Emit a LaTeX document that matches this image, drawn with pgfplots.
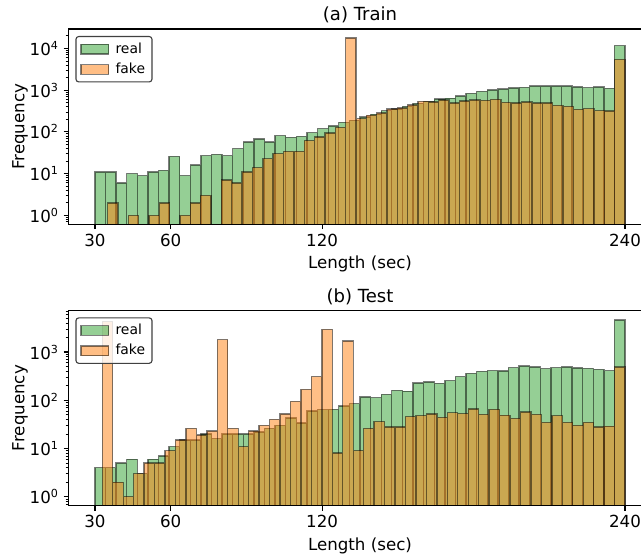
\documentclass[border=0pt]{standalone}
\usepackage{fontspec}
\setmainfont{DejaVu Sans}
\usepackage{pgfplots}
\usepackage{pgfplotstable}
\pgfplotsset{compat=1.18}
\definecolor{tabgreen}{RGB}{44,160,44}
\definecolor{taborange}{RGB}{255,127,14}

\pgfplotstableread{
x y
32.1 11
36.3 11
40.5 6
44.7 10
48.9 9
53.1 11
57.3 12
61.5 26
65.7 9
69.9 16
74.1 27
78.3 29
82.5 27
86.7 40
90.9 57
95.1 68
99.3 57
103.5 81
107.7 74
111.9 78
116.1 96
120.3 119
124.5 139
128.7 169
132.9 190
137.1 225
141.3 265
145.5 320
149.7 350
153.9 410
158.1 480
162.3 540
166.5 608
170.7 640
174.9 718
179.1 840
183.3 935
187.5 1018
191.7 1065
195.9 1130
200.1 1170
204.3 1247
208.5 1247
212.7 1247
216.9 1247
221.1 1202
225.3 1150
229.5 1180
233.7 1096
237.9 11590
}\realtrain

\pgfplotstableread{
x y
37.05 2
45.25 1
53.45 1
57.55 2
65.75 1
69.85 2
73.95 3
82.15 7
86.25 6
90.35 11
94.45 14
98.55 23
102.65 30
106.75 34
110.85 34
114.95 62
119.05 76
123.15 95
127.25 129
131.35 17800
135.45 209
139.55 251
143.65 286
147.75 350
151.85 377
155.95 445
160.05 535
164.15 525
168.25 575
172.35 497
176.45 545
180.55 575
184.65 565
188.75 597
192.85 506
196.95 497
201.05 515
205.15 488
209.25 497
213.35 429
217.45 410
221.55 344
225.65 363
229.75 322
233.85 319
237.95 5445
}\faketrain

\pgfplotstableread{
x y
32.1 4
36.3 4
40.5 5
44.7 6
48.9 3
53.1 6
57.3 7
61.5 11
65.7 15
69.9 15
74.1 20
78.3 16
82.5 20
86.7 20
90.9 20
95.1 22
99.3 26
103.5 30
107.7 43
111.9 34
116.1 60
120.3 64
124.5 65
128.7 76
132.9 85
137.1 117
141.3 114
145.5 133
149.7 161
153.9 154
158.1 228
162.3 240
166.5 225
170.7 255
174.9 309
179.1 362
183.3 398
187.5 411
191.7 405
195.9 474
200.1 513
204.3 490
208.5 452
212.7 474
216.9 490
221.1 467
225.3 459
229.5 438
233.7 411
237.9 4590
}\realtest

\pgfplotstableread{
x y
34.971 4250
39.113 2
43.255 1
47.397 3
51.539 5
55.681 5
59.823 9
63.965 15
68.107 26
72.249 19
76.391 23
80.533 1800
84.675 26
88.817 11
92.959 23
97.101 30
101.243 40
105.385 52
109.527 95
113.669 169
117.811 309
121.953 2944
126.095 8
130.237 1690
134.379 9
138.521 26
142.663 36
146.805 28
150.947 28
155.089 46
159.231 48
163.373 52
167.515 44
171.657 55
175.799 53
179.941 66
184.083 51
188.225 65
192.367 49
196.509 42
200.651 57
204.793 51
208.935 35
213.077 48
217.219 35
221.361 30
225.503 35
229.645 28
233.787 29
237.929 490
}\faketest

\pgfplotsset{
  histaxis/.style={
    scale only axis, width=419.8pt, height=140.6pt,
    xmin=19.5, xmax=250.5,
    axis on top,
    axis line style={line width=0.8pt, black},
    tick align=outside, tick pos=left,
    major tick length=3.5pt, minor tick length=2pt,
    major tick style={line width=0.8pt, black},
    minor tick style={line width=0.6pt, black},
    xtick={30,60,120,240}, xticklabels={30,60,120,240},
    minor ytick={0.7,0.8,0.9,2,3,4,5,6,7,8,9,20,30,40,50,60,70,80,90,200,300,400,500,600,700,800,900,2000,3000,4000,5000,6000,7000,8000,9000,20000},
    xlabel={Length (sec)}, ylabel={Frequency},
    tick label style={font=\fontsize{12}{14.4}\selectfont},
    label style={font=\fontsize{12}{14.4}\selectfont},
    ylabel style={yshift=-5.5pt},
    title style={font=\fontsize{13}{15.6}\selectfont, at={(0.5,1)}, anchor=base, yshift=0pt},
    legend style={at={(0,1)}, anchor=north west, xshift=5pt, yshift=-5pt,
      font=\fontsize{10}{12}\selectfont, draw=black!75, line width=0.8pt,
      rounded corners=2pt, fill=white, fill opacity=0.8, draw opacity=1, text opacity=1,
      inner xsep=3pt, inner ysep=2.5pt, row sep=1.5pt},
    legend cell align=left,
    legend image code/.code={\draw[sharp corners,##1] (0pt,-3.5pt) rectangle (20pt,3.5pt); \path[draw=none,fill=none] (0pt,0pt) -- (23pt,0pt);},
  },
  realbar/.style={ybar, bar width=4.2, bar shift=0pt, fill=tabgreen, fill opacity=0.5, draw=black, draw opacity=0.5, line width=1pt, forget plot},
  fakebar/.style={ybar, bar shift=0pt, fill=taborange, fill opacity=0.5, draw=black, draw opacity=0.5, line width=1pt, forget plot},
}

\begin{document}
\begin{tikzpicture}
\begin{axis}[histaxis, ymode=log, log origin y=infty,
  at={(49.3pt,240.26pt)}, anchor=south west,
  ymin=0.612, ymax=29100,
  ytick={1,10,100,1000,10000},
  yticklabels={10\textsuperscript{0},10\textsuperscript{1},10\textsuperscript{2},10\textsuperscript{3},10\textsuperscript{4}},
  title={(a) Train}]
\addlegendimage{fill=tabgreen, fill opacity=0.5, draw=black, draw opacity=0.5, line width=1pt}
\addlegendentry{real}
\addlegendimage{fill=taborange, fill opacity=0.5, draw=black, draw opacity=0.5, line width=1pt}
\addlegendentry{fake}
\addplot[realbar] table[x=x, y=y] {\realtrain};
\addplot[fakebar, bar width=4.1] table[x=x, y=y] {\faketrain};
\end{axis}
\begin{axis}[histaxis, ymode=log, log origin y=infty,
  at={(49.3pt,37.66pt)}, anchor=south west,
  ymin=0.652, ymax=7295,
  ytick={1,10,100,1000},
  yticklabels={10\textsuperscript{0},10\textsuperscript{1},10\textsuperscript{2},10\textsuperscript{3}},
  title={(b) Test}]
\addlegendimage{fill=tabgreen, fill opacity=0.5, draw=black, draw opacity=0.5, line width=1pt}
\addlegendentry{real}
\addlegendimage{fill=taborange, fill opacity=0.5, draw=black, draw opacity=0.5, line width=1pt}
\addlegendentry{fake}
\addplot[realbar] table[x=x, y=y] {\realtest};
\addplot[fakebar, bar width=4.142] table[x=x, y=y] {\faketest};
\end{axis}
\pgfresetboundingbox
\path[use as bounding box] (0,0) rectangle (461.52pt,401.76pt);
\end{tikzpicture}
\end{document}
